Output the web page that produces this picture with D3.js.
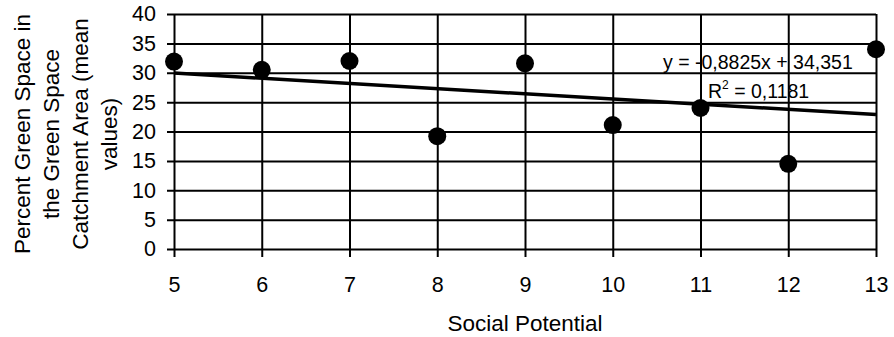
<!DOCTYPE html>
<html>
<head>
<meta charset="utf-8">
<script src="https://cdn.jsdelivr.net/npm/d3@7"></script>
<style>
  body { margin: 0; background: #fff; }
  text { font-family: "Liberation Sans", Arial, sans-serif; fill: #000; }
</style>
</head>
<body>
<div id="chart"></div>
<script>
// Social potential (x) and mean percent green space (y)
const socialPotential = [5, 6, 7, 8, 9, 10, 11, 12, 13];
const greenSpace = [31.9, 30.5, 32.0, 19.2, 31.6, 21.1, 24.0, 14.5, 34.0];
const yTicks = [0, 5, 10, 15, 20, 25, 30, 35, 40];
const xTicks = [5, 6, 7, 8, 9, 10, 11, 12, 13];
// linear trend line reported on the chart
const slope = -0.8825, intercept = 34.351, rSquared = "0,1181";

const width = 894, height = 337;
const margins = { top: 14, right: 18, bottom: 88, left: 174 };

const svg = d3.select("#chart")
  .append("svg")
  .attr("width", width)
  .attr("height", height);

const xScale = d3.scaleLinear()
  .domain([5, 13])
  .range([margins.left, width - margins.right]);

const yScale = d3.scaleLinear()
  .domain([0, 40])
  .range([height - margins.bottom, margins.top]);

const plotW = xScale(13) - xScale(5);
const plotH = yScale(0) - yScale(40);

// horizontal grid + y axis
const yAxis = d3.axisLeft(yScale)
  .tickValues(yTicks)
  .tickSize(0)
  .tickPadding(11)
  .tickSizeOuter(0);

svg.append("g")
  .attr("transform", `translate(${xScale(5) - 7},0)`)
  .call(yAxis)
  .call(g => g.select(".domain").remove())
  .call(g => g.selectAll("line").attr("stroke", "#000").attr("stroke-width", 2)
    .attr("x1", 0).attr("x2", plotW + 7))
  .call(g => g.selectAll("text").style("font-size", "21.5px"));

// vertical grid + x axis
const xAxis = d3.axisBottom(xScale)
  .tickValues(xTicks)
  .tickSize(8)
  .tickPadding(20)
  .tickSizeOuter(0);

svg.append("g")
  .attr("transform", `translate(0,${yScale(0)})`)
  .call(xAxis)
  .call(g => g.select(".domain").remove())
  .call(g => g.selectAll("line").attr("stroke", "#000").attr("stroke-width", 2)
    .attr("y1", -plotH).attr("y2", 8))
  .call(g => g.selectAll("text").style("font-size", "21.5px"));

// trend line
svg.append("line")
  .attr("x1", xScale(5))
  .attr("y1", yScale(slope * 5 + intercept))
  .attr("x2", xScale(13))
  .attr("y2", yScale(slope * 13 + intercept))
  .attr("stroke", "#000")
  .attr("stroke-width", 3.5);

// points
svg.append("g")
  .selectAll("circle")
  .data(socialPotential.map((x, i) => ({ x, y: greenSpace[i] })))
  .join("circle")
  .attr("cx", d => xScale(d.x))
  .attr("cy", d => yScale(d.y))
  .attr("r", 9)
  .attr("fill", "#000");

// equation labels
svg.append("text")
  .attr("x", 663)
  .attr("y", 69)
  .style("font-size", "19.5px")
  .text("y = -0,8825x + 34,351");

const r2 = svg.append("text")
  .attr("x", 708)
  .attr("y", 98)
  .style("font-size", "19.5px");
r2.append("tspan").text("R");
r2.append("tspan").attr("dy", -9).style("font-size", "12px").text("2");
r2.append("tspan").attr("dy", 9).text(" = " + rSquared);

// axis titles
svg.append("text")
  .attr("x", (xScale(5) + xScale(13)) / 2)
  .attr("y", 331)
  .attr("text-anchor", "middle")
  .style("font-size", "22.5px")
  .text("Social Potential");

const yTitle = ["Percent Green Space in", "the Green Space", "Catchment Area (mean", "values)"];
svg.append("text")
  .attr("transform", `translate(30,134) rotate(-90)`)
  .attr("text-anchor", "middle")
  .style("font-size", "22.5px")
  .selectAll("tspan")
  .data(yTitle)
  .join("tspan")
  .attr("x", 0)
  .attr("y", (d, i) => i * 29)
  .text(d => d);
</script>
</body>
</html>
